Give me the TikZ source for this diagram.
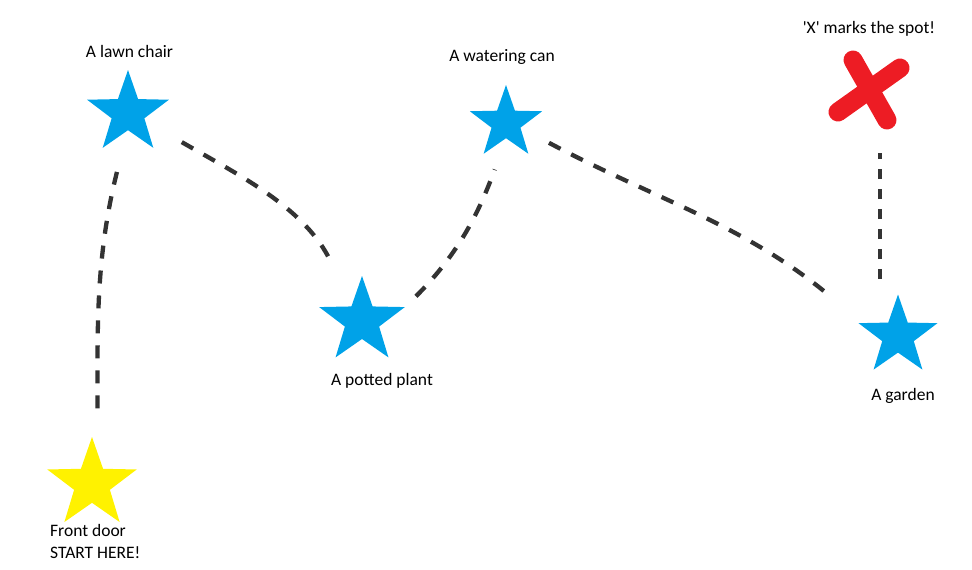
\documentclass[tikz,border=0pt]{standalone}
\usepackage{fontspec}
\setmainfont{Carlito}
\usetikzlibrary{shapes.geometric}
\definecolor{PaintBlue}{RGB}{0,162,232}
\definecolor{PaintYellow}{RGB}{255,242,0}
\definecolor{PaintRed}{RGB}{237,28,36}
\tikzset{
  spotstar/.style={star,star points=5,star point ratio=2.5,inner sep=0pt,
    fill=PaintBlue},
  trail/.style={line width=4.3pt,black!80,dash pattern=on 13pt off 12pt},
  xmark/.style={line width=19pt,PaintRed,line cap=round},
  lbl/.style={font=\fontsize{17.5}{22}\selectfont,anchor=base,inner sep=0pt}
}

\begin{document}
\begin{tikzpicture}[x=1pt,y=-1pt]
          \useasboundingbox (0,0) rectangle (972,570);
          % Stars along the way
          \node[spotstar,fill=PaintYellow,minimum size=94pt] (door) at (92,484) {};
          \node[spotstar,minimum size=86pt] (chair) at (128,113) {};
          \node[spotstar,minimum size=90pt] (plant) at (362,321) {};
          \node[spotstar,minimum size=76pt] (can) at (506,123) {};
          \node[spotstar,minimum size=83pt] (garden) at (898,336) {};
          % The X
          \node[minimum width=80pt,minimum height=76pt,inner sep=0pt] (spot) at (870,90) {};
          \draw[xmark] ([shift={(-17pt,30pt)}]spot.center) -- ([shift={(17pt,-30pt)}]spot.center);
          \draw[xmark] ([shift={(30pt,22pt)}]spot.center) -- ([shift={(-32pt,-22pt)}]spot.center);
          % Trail
          \draw[trail,shorten <=44pt,shorten >=33pt] (door.80) to[out=90,in=255] (chair.south);
          \draw[trail,shorten <=42pt,shorten >=48pt] (chair.-25) to[out=-30,in=115] (plant.125);
          \draw[trail,shorten <=15pt,shorten >=33pt] (plant.18) to[out=45,in=250] (can.south);
          \draw[trail,shorten <=32pt,shorten >=40pt] (can.-18) to[out=-28,in=140] (garden.160);
          \draw[trail,dash pattern=on 10pt off 10pt,shorten <=15pt,shorten >=25pt]
            ([xshift=-18pt]garden.north) -- ([xshift=-18pt]garden.north |- spot.south);
          % Labels
          \node[lbl] (chairlbl) at (129.5,57) {A lawn chair};
          \node[lbl] (canlbl) at (502,61) {A watering can};
          \node[lbl] (plantlbl) at (382,385) {A potted plant};
          \node[lbl] (gardenlbl) at (903,400) {A garden};
          \node[lbl] (spotlbl) at (869,33) {\textquotesingle X\textquotesingle{} marks the spot!};
          \node[lbl,anchor=base west,align=left] (doorlbl) at (50,558) {Front door\\START HERE!};
        \end{tikzpicture}
\end{document}
